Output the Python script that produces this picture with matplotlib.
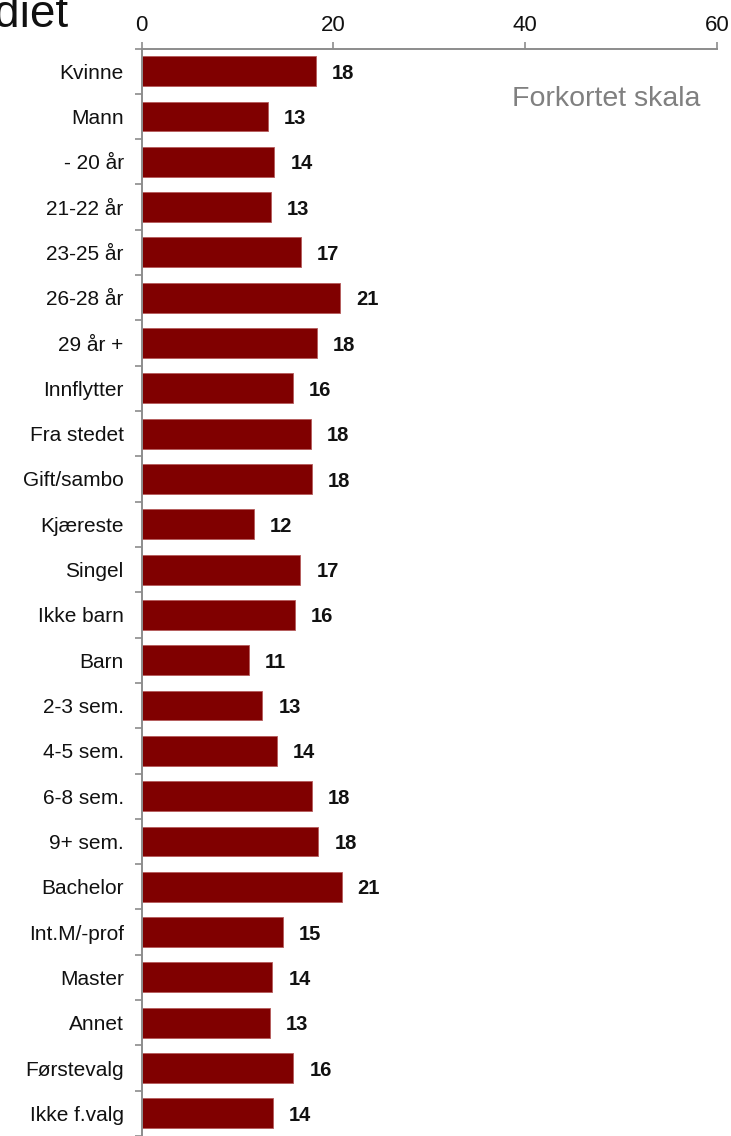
import matplotlib
matplotlib.use("Agg")
import matplotlib.pyplot as plt
import numpy as np
from matplotlib.ticker import FixedLocator

plt.rcParams["font.family"] = ["Liberation Sans", "DejaVu Sans"]

categories = ["Kvinne", "Mann", "- 20 år", "21-22 år", "23-25 år", "26-28 år",
              "29 år +", "Innflytter", "Fra stedet", "Gift/sambo", "Kjæreste",
              "Singel", "Ikke barn", "Barn", "2-3 sem.", "4-5 sem.", "6-8 sem.",
              "9+ sem.", "Bachelor", "Int.M/-prof", "Master", "Annet",
              "Førstevalg", "Ikke f.valg"]
values = [18.14, 13.17, 13.83, 13.45, 16.58, 20.71, 18.31, 15.78, 17.62,
          17.79, 11.74, 16.54, 15.95, 11.16, 12.58, 14.11, 17.79, 18.42,
          20.85, 14.70, 13.62, 13.38, 15.81, 13.72]
x_ticks = [0, 20, 40, 60]

BAR_COLOR = "#800000"
BAR_EDGE = "#b55a5a"
AXIS_GREY = "#8c8c8c"
NOTE_GREY = "#808080"

W, H = 731, 1136
fig = plt.figure(figsize=(W / 100, H / 100), dpi=100, facecolor="white")
left_px, right_px, top_px = 141.7, 717.0, 48.5
ax = fig.add_axes([left_px / W, 0.0, (right_px - left_px) / W, 1 - top_px / H])

y = np.arange(len(categories))
ax.barh(y, values, height=0.66, color=BAR_COLOR, edgecolor=BAR_EDGE,
        linewidth=0.6, zorder=2)

for yi, v in zip(y, values):
    ax.annotate(f"{v:.0f}", (v, yi), textcoords="offset points", xytext=(11.5, -1.5),
                ha="left", va="center", fontsize=14.5, fontweight="bold",
                color="#111111")

ax.set_xlim(0, 60)
ax.set_ylim(len(categories) - 0.5, -0.5)

ax.xaxis.tick_top()
ax.set_xticks(x_ticks)
ax.tick_params(axis="x", direction="out", length=5, width=1.2, color=AXIS_GREY,
               labelsize=16, pad=4, labelcolor="#111111")

ax.set_yticks(y)
ax.set_yticklabels(categories)
ax.yaxis.set_minor_locator(FixedLocator(np.arange(-0.5, len(categories), 1.0)))
ax.tick_params(axis="y", which="major", length=0, pad=13, labelsize=15,
               labelcolor="#111111")
ax.tick_params(axis="y", which="minor", direction="out", length=5, width=1.2,
               color=AXIS_GREY)

for side in ("bottom", "right"):
    ax.spines[side].set_visible(False)
for side in ("top", "left"):
    ax.spines[side].set_color(AXIS_GREY)
    ax.spines[side].set_linewidth(1.4)

fig.text(69 / W, 1 - 27 / H, "studiet", ha="right", va="baseline",
         fontsize=33, color="#111111")
fig.text(700 / W, 1 - 106.5 / H, "Forkortet skala", ha="right", va="baseline",
         fontsize=20.5, color=NOTE_GREY)

fig.savefig("out.png", dpi=100, facecolor="white")
